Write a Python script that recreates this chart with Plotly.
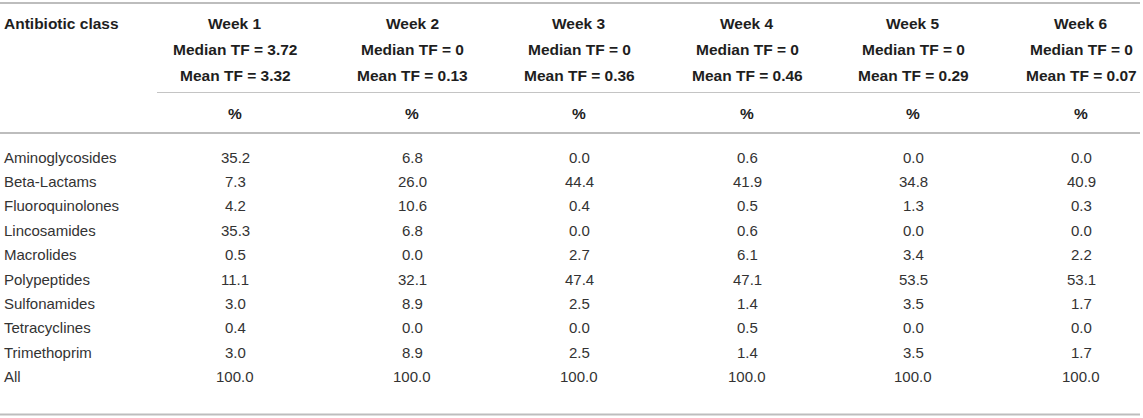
import plotly.graph_objects as go

classes = ["Aminoglycosides", "Beta-Lactams", "Fluoroquinolones", "Lincosamides",
           "Macrolides", "Polypeptides", "Sulfonamides", "Tetracyclines",
           "Trimethoprim", "All"]
weeks = ["Week 1", "Week 2", "Week 3", "Week 4", "Week 5", "Week 6"]
median_tf = ["3.72", "0", "0", "0", "0", "0"]
mean_tf = ["3.32", "0.13", "0.36", "0.46", "0.29", "0.07"]
week1 = [35.2, 7.3, 4.2, 35.3, 0.5, 11.1, 3.0, 0.4, 3.0, 100.0]
week2 = [6.8, 26.0, 10.6, 6.8, 0.0, 32.1, 8.9, 0.0, 8.9, 100.0]
week3 = [0.0, 44.4, 0.4, 0.0, 2.7, 47.4, 2.5, 0.0, 2.5, 100.0]
week4 = [0.6, 41.9, 0.5, 0.6, 6.1, 47.1, 1.4, 0.5, 1.4, 100.0]
week5 = [0.0, 34.8, 1.3, 0.0, 3.4, 53.5, 3.5, 0.0, 3.5, 100.0]
week6 = [0.0, 40.9, 0.3, 0.0, 2.2, 53.1, 1.7, 0.0, 1.7, 100.0]
columns = [week1, week2, week3, week4, week5, week6]

W, H = 1143, 418
col_x = [235, 412, 579, 747, 913, 1081]
label_x = 2
row_y0, row_dy = 157, 24.4
FONT = "Liberation Sans, Arial, Helvetica, sans-serif"
TXT = "#333333"
HDR = "#1e1e1e"
fs = 15
fs_b = 15.5

fig = go.Figure()
fig.add_trace(go.Scatter(x=[0, W], y=[0, H], mode="markers",
                         marker=dict(opacity=0), hoverinfo="skip", showlegend=False))

ann = []
def add(text, x, y, bold=False, xanchor="center"):
    t = f"<b>{text}</b>" if bold else text
    ann.append(dict(text=t, x=x, y=y, xref="x", yref="y", showarrow=False,
                    xanchor=xanchor, yanchor="middle",
                    font=dict(family=FONT, size=fs_b if bold else fs,
                              color=HDR if bold else TXT)))

add("Antibiotic class", label_x, 23, bold=True, xanchor="left")
for i, wk in enumerate(weeks):
    x = col_x[i]
    add(wk, x, 23, bold=True)
    add(f"Median TF = {median_tf[i]}", x, 49, bold=True)
    add(f"Mean TF = {mean_tf[i]}", x, 75, bold=True)
    add("%", x, 113, bold=True)

for r, cls in enumerate(classes):
    y = row_y0 + r * row_dy
    add(cls, label_x, y, xanchor="left")
    for c, vals in enumerate(columns):
        add(f"{vals[r]:.1f}", col_x[c], y)

shapes = [
    dict(type="line", x0=0, x1=1140, y0=3, y1=3, xref="x", yref="y",
         line=dict(color="#bdbdbd", width=2)),
    dict(type="line", x0=157, x1=1140, y0=92.5, y1=92.5, xref="x", yref="y",
         line=dict(color="#c4c4c4", width=1.2)),
    dict(type="line", x0=0, x1=1140, y0=133, y1=133, xref="x", yref="y",
         line=dict(color="#bdbdbd", width=2)),
    dict(type="line", x0=0, x1=1140, y0=414.5, y1=414.5, xref="x", yref="y",
         line=dict(color="#bdbdbd", width=2)),
]

fig.update_layout(
    width=W, height=H, margin=dict(l=0, r=0, t=0, b=0),
    paper_bgcolor="white", plot_bgcolor="white",
    xaxis=dict(range=[0, W], visible=False, fixedrange=True),
    yaxis=dict(range=[H, 0], visible=False, fixedrange=True),
    annotations=ann, shapes=shapes, showlegend=False,
)
fig.write_html("out.html", config={"displayModeBar": False},
               post_script="document.body.style.margin='0';document.body.style.overflow='hidden';")
